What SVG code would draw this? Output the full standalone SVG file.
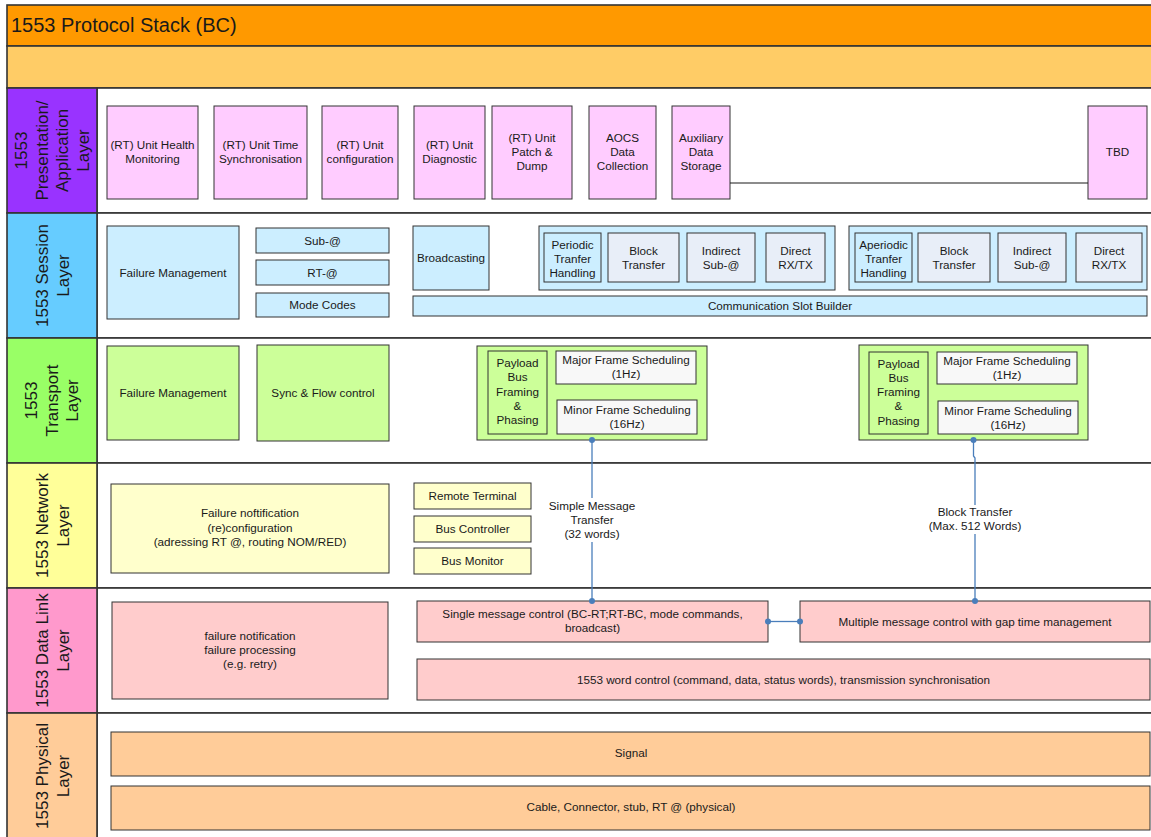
<svg xmlns="http://www.w3.org/2000/svg" width="1151" height="837" viewBox="0 0 1151 837">
<style>
.t{font-family:"Liberation Sans",Arial,sans-serif;font-size:11.7px;fill:#1a1a1a;text-anchor:middle}
.lt{font-family:"Liberation Sans",Arial,sans-serif;font-size:17px;fill:#1a1a1a;text-anchor:middle}
.frame{stroke:#333;stroke-width:1.6}
.b{stroke:#333;stroke-width:1}
.pres{fill:#ffccff}
.sess{fill:#cceeff}
.sessi{fill:#e8eef8}
.tran{fill:#ccff99}
.sched{fill:#f8f8f8}
.net{fill:#ffffcc}
.dl{fill:#ffcccc}
.phy{fill:#ffcc99}
.conn{stroke:#4a7ebb;stroke-width:1.3;fill:none}
.dot{fill:#4a7ebb}
</style>
<rect x="0" y="0" width="1151" height="837" fill="#fff"/>
<g id="frame">
<rect class="frame" x="7" y="5" width="1150" height="41" fill="#ff9900"/>
<text x="11" y="32" font-family="Liberation Sans, Arial, sans-serif" font-size="20" fill="#1a1a1a">1553 Protocol Stack (BC)</text>
<rect class="frame" x="7" y="46" width="1150" height="42" fill="#ffcc66"/>
<rect class="frame" x="97" y="88" width="1060" height="125" fill="#fff"/>
<rect class="frame" x="97" y="213" width="1060" height="125" fill="#fff"/>
<rect class="frame" x="97" y="338" width="1060" height="125" fill="#fff"/>
<rect class="frame" x="97" y="463" width="1060" height="125" fill="#fff"/>
<rect class="frame" x="97" y="588" width="1060" height="125" fill="#fff"/>
<rect class="frame" x="97" y="713" width="1060" height="130" fill="#fff"/>
</g>
<g id="layer-presentation">
<rect class="frame" x="7" y="88" width="90" height="125" fill="#9933ff"/>
<g transform="translate(0,150.5) rotate(-90)">
<text class="lt" x="0" y="27">1553</text>
<text class="lt" x="0" y="47.5">Presentation/</text>
<text class="lt" x="0" y="68">Application</text>
<text class="lt" x="0" y="88.5">Layer</text>
</g>
</g>
<g id="layer-session">
<rect class="frame" x="7" y="213" width="90" height="125" fill="#66ccff"/>
<g transform="translate(0,275.5) rotate(-90)">
<text class="lt" x="0" y="48">1553 Session</text>
<text class="lt" x="0" y="68.5">Layer</text>
</g>
</g>
<g id="layer-transport">
<rect class="frame" x="7" y="338" width="90" height="125" fill="#99ff66"/>
<g transform="translate(0,400.5) rotate(-90)">
<text class="lt" x="0" y="37">1553</text>
<text class="lt" x="0" y="57.5">Transport</text>
<text class="lt" x="0" y="78">Layer</text>
</g>
</g>
<g id="layer-network">
<rect class="frame" x="7" y="463" width="90" height="125" fill="#ffff99"/>
<g transform="translate(0,525.5) rotate(-90)">
<text class="lt" x="0" y="48">1553 Network</text>
<text class="lt" x="0" y="68.5">Layer</text>
</g>
</g>
<g id="layer-datalink">
<rect class="frame" x="7" y="588" width="90" height="125" fill="#ff99cc"/>
<g transform="translate(0,650.5) rotate(-90)">
<text class="lt" x="0" y="48">1553 Data Link</text>
<text class="lt" x="0" y="68.5">Layer</text>
</g>
</g>
<g id="layer-physical">
<rect class="frame" x="7" y="713" width="90" height="130" fill="#ffcc99"/>
<g transform="translate(0,776) rotate(-90)">
<text class="lt" x="0" y="48">1553 Physical</text>
<text class="lt" x="0" y="68.5">Layer</text>
</g>
</g>

<g id="app-health"><rect class="b pres" x="107" y="106" width="91" height="93"/><text class="t" x="152.5" y="149">(RT) Unit Health</text><text class="t" x="152.5" y="163">Monitoring</text></g>
<g id="app-time"><rect class="b pres" x="214" y="106" width="93" height="93"/><text class="t" x="260.5" y="149">(RT) Unit Time</text><text class="t" x="260.5" y="163">Synchronisation</text></g>
<g id="app-config"><rect class="b pres" x="322" y="106" width="76" height="93"/><text class="t" x="360" y="149">(RT) Unit</text><text class="t" x="360" y="163">configuration</text></g>
<g id="app-diag"><rect class="b pres" x="414" y="106" width="71" height="93"/><text class="t" x="449.5" y="149">(RT) Unit</text><text class="t" x="449.5" y="163">Diagnostic</text></g>
<g id="app-patch"><rect class="b pres" x="492" y="106" width="80" height="93"/><text class="t" x="532" y="142">(RT) Unit</text><text class="t" x="532" y="156">Patch &amp;</text><text class="t" x="532" y="170">Dump</text></g>
<g id="app-aocs"><rect class="b pres" x="589" y="106" width="67" height="93"/><text class="t" x="622.5" y="142">AOCS</text><text class="t" x="622.5" y="156">Data</text><text class="t" x="622.5" y="170">Collection</text></g>
<g id="app-aux"><rect class="b pres" x="672" y="106" width="58" height="93"/><text class="t" x="701" y="142">Auxiliary</text><text class="t" x="701" y="156">Data</text><text class="t" x="701" y="170">Storage</text></g>
<g id="app-tbd"><rect class="b pres" x="1088" y="106" width="59" height="93"/><text class="t" x="1117.5" y="156">TBD</text></g>

<g id="ses-fm"><rect class="b sess" x="107" y="226" width="132" height="93"/><text class="t" x="173" y="276.5">Failure Management</text></g>
<g id="ses-sub"><rect class="b sess" x="256" y="228" width="133" height="25"/><text class="t" x="322.5" y="244.5">Sub-@</text></g>
<g id="ses-rt"><rect class="b sess" x="256" y="260" width="133" height="25"/><text class="t" x="322.5" y="276.5">RT-@</text></g>
<g id="ses-mode"><rect class="b sess" x="256" y="293" width="133" height="24"/><text class="t" x="322.5" y="309">Mode Codes</text></g>
<g id="ses-bcast"><rect class="b sess" x="413" y="226" width="76" height="64"/><text class="t" x="451" y="262">Broadcasting</text></g>
<g id="ses-periodic-group">
<rect class="b sess" x="539" y="226" width="296" height="64"/>
<g id="ses-periodic"><rect class="b sess" x="544" y="233" width="57" height="49"/><text class="t" x="572.5" y="248.5">Periodic</text><text class="t" x="572.5" y="262.5">Tranfer</text><text class="t" x="572.5" y="276.5">Handling</text></g>
<g id="ses-block1"><rect class="b sessi" x="608" y="233" width="71" height="49"/><text class="t" x="643.5" y="255">Block</text><text class="t" x="643.5" y="269">Transfer</text></g>
<g id="ses-indirect1"><rect class="b sessi" x="687" y="233" width="68" height="49"/><text class="t" x="721" y="255">Indirect</text><text class="t" x="721" y="269">Sub-@</text></g>
<g id="ses-direct1"><rect class="b sessi" x="766" y="233" width="59" height="49"/><text class="t" x="795.5" y="255">Direct</text><text class="t" x="795.5" y="269">RX/TX</text></g>
</g>
<g id="ses-aperiodic-group">
<rect class="b sess" x="849" y="226" width="298" height="64"/>
<g id="ses-aperiodic"><rect class="b sess" x="855" y="233" width="57" height="49"/><text class="t" x="883.5" y="248.5">Aperiodic</text><text class="t" x="883.5" y="262.5">Tranfer</text><text class="t" x="883.5" y="276.5">Handling</text></g>
<g id="ses-block2"><rect class="b sessi" x="918" y="233" width="72" height="49"/><text class="t" x="954" y="255">Block</text><text class="t" x="954" y="269">Transfer</text></g>
<g id="ses-indirect2"><rect class="b sessi" x="998" y="233" width="68" height="49"/><text class="t" x="1032" y="255">Indirect</text><text class="t" x="1032" y="269">Sub-@</text></g>
<g id="ses-direct2"><rect class="b sessi" x="1076" y="233" width="66" height="49"/><text class="t" x="1109" y="255">Direct</text><text class="t" x="1109" y="269">RX/TX</text></g>
</g>
<g id="ses-csb"><rect class="b sess" x="413" y="296" width="734" height="20"/><text class="t" x="780" y="310">Communication Slot Builder</text></g>

<g id="tr-fm"><rect class="b tran" x="107" y="346" width="132" height="94"/><text class="t" x="173" y="397">Failure Management</text></g>
<g id="tr-sync"><rect class="b tran" x="257" y="345" width="132" height="96"/><text class="t" x="323" y="397">Sync &amp; Flow control</text></g>
<g id="tr-group1">
<rect class="b tran" x="477" y="346" width="230" height="94"/>
<g id="tr-payload1"><rect class="b tran" x="488" y="351" width="59" height="83"/><text class="t" x="517.5" y="367">Payload</text><text class="t" x="517.5" y="381.2">Bus</text><text class="t" x="517.5" y="395.5">Framing</text><text class="t" x="517.5" y="409.7">&amp;</text><text class="t" x="517.5" y="424">Phasing</text></g>
<g id="tr-major1"><rect class="b sched" x="556" y="351" width="140" height="33"/><text class="t" x="626" y="364">Major Frame Scheduling</text><text class="t" x="626" y="378">(1Hz)</text></g>
<g id="tr-minor1"><rect class="b sched" x="557" y="400" width="140" height="34"/><text class="t" x="627" y="414">Minor Frame Scheduling</text><text class="t" x="627" y="428">(16Hz)</text></g>
</g>
<g id="tr-group2">
<rect class="b tran" x="859" y="345" width="229" height="95"/>
<g id="tr-payload2"><rect class="b tran" x="869" y="352" width="59" height="82"/><text class="t" x="898.5" y="367.5">Payload</text><text class="t" x="898.5" y="381.7">Bus</text><text class="t" x="898.5" y="396">Framing</text><text class="t" x="898.5" y="410.2">&amp;</text><text class="t" x="898.5" y="424.5">Phasing</text></g>
<g id="tr-major2"><rect class="b sched" x="937" y="352" width="140" height="32"/><text class="t" x="1007" y="365">Major Frame Scheduling</text><text class="t" x="1007" y="379">(1Hz)</text></g>
<g id="tr-minor2"><rect class="b sched" x="938" y="401" width="140" height="33"/><text class="t" x="1008" y="414.5">Minor Frame Scheduling</text><text class="t" x="1008" y="428.5">(16Hz)</text></g>
</g>

<g id="net-failure"><rect class="b net" x="111" y="484" width="278" height="89"/><text class="t" x="250" y="517">Failure noftification</text><text class="t" x="250" y="532">(re)configuration</text><text class="t" x="250" y="546">(adressing RT @, routing NOM/RED)</text></g>
<g id="net-rt"><rect class="b net" x="414" y="483" width="117" height="26"/><text class="t" x="472.5" y="500">Remote Terminal</text></g>
<g id="net-bc"><rect class="b net" x="414" y="516" width="117" height="26"/><text class="t" x="472.5" y="532.5">Bus Controller</text></g>
<g id="net-bm"><rect class="b net" x="414" y="548" width="117" height="26"/><text class="t" x="472.5" y="565">Bus Monitor</text></g>

<g id="dl-failure"><rect class="b dl" x="112" y="602" width="276" height="97"/><text class="t" x="250" y="640">failure notification</text><text class="t" x="250" y="654">failure processing</text><text class="t" x="250" y="668">(e.g. retry)</text></g>
<g id="dl-single"><rect class="b dl" x="417" y="601" width="351" height="41"/><text class="t" x="592.5" y="618">Single message control (BC-RT;RT-BC, mode commands,</text><text class="t" x="592.5" y="632">broadcast)</text></g>
<g id="dl-multiple"><rect class="b dl" x="800" y="601" width="350" height="41"/><text class="t" x="975" y="626">Multiple message control with gap time management</text></g>
<g id="dl-word"><rect class="b dl" x="417" y="659" width="733" height="41"/><text class="t" x="783.5" y="683.5">1553 word control (command, data, status words), transmission synchronisation</text></g>

<g id="phy-signal"><rect class="b phy" x="111" y="732" width="1039" height="44"/><text class="t" x="631" y="757">Signal</text></g>
<g id="phy-cable"><rect class="b phy" x="111" y="786" width="1039" height="44"/><text class="t" x="631" y="811">Cable, Connector, stub, RT @ (physical)</text></g>

<g id="connectors">
<line x1="730" y1="183" x2="1088" y2="183" stroke="#1a1a1a" stroke-width="1.2"/>
<line class="conn" x1="592" y1="440" x2="592" y2="601"/>
<polyline class="conn" points="973.5,440 973.5,456 975,458 975,601"/>
<line class="conn" x1="768" y1="621.5" x2="800" y2="621.5"/>
<circle class="dot" cx="592" cy="440" r="3"/>
<circle class="dot" cx="592" cy="601" r="3"/>
<circle class="dot" cx="973.5" cy="440" r="3"/>
<circle class="dot" cx="975" cy="601" r="3"/>
<circle class="dot" cx="768" cy="621.5" r="3"/>
<circle class="dot" cx="800" cy="621.5" r="3"/>
<rect x="546" y="498" width="92" height="44" fill="#fff"/>
<text class="t" x="592" y="510">Simple Message</text>
<text class="t" x="592" y="524">Transfer</text>
<text class="t" x="592" y="538">(32 words)</text>
<rect x="927" y="505" width="96" height="29" fill="#fff"/>
<text class="t" x="975" y="516">Block Transfer</text>
<text class="t" x="975" y="530">(Max. 512 Words)</text>
</g>
</svg>
